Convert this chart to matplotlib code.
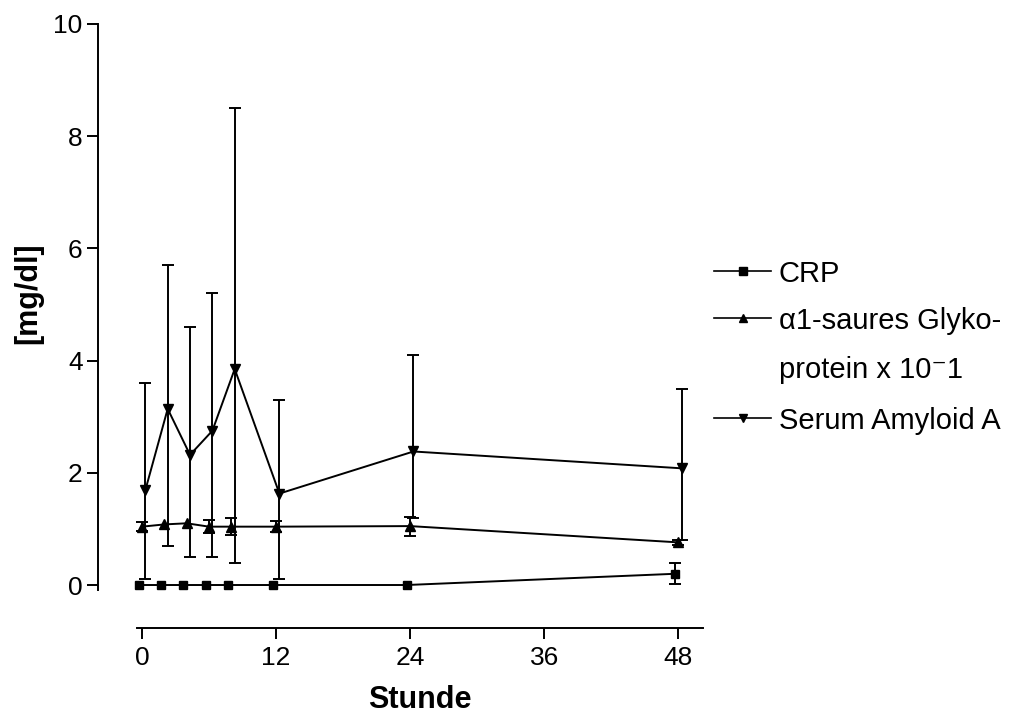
import numpy as np
import matplotlib
matplotlib.use('Agg')
import matplotlib.pyplot as plt

plt.rcParams['font.family'] = ['Liberation Sans', 'DejaVu Sans']

# hours after start
hours = np.array([0, 2, 4, 6, 8, 12, 24, 48])

# CRP [mg/dl]
crp_mean = np.array([0, 0, 0, 0, 0, 0, 0, 0.20])
crp_sd = np.array([0, 0, 0, 0, 0, 0, 0, 0.19])

# alpha1-acid glycoprotein x 10^-1
agp_mean = np.array([1.04, 1.08, 1.10, 1.04, 1.04, 1.04, 1.05, 0.76])
agp_sd = np.array([0.08, 0, 0, 0.12, 0.15, 0.10, 0.17, 0.05])

# serum amyloid A, error bars not symmetric
saa_mean = np.array([1.69, 3.14, 2.32, 2.75, 3.85, 1.63, 2.38, 2.08])
saa_top = np.array([3.60, 5.70, 4.60, 5.20, 8.50, 3.30, 4.10, 3.50])
saa_bottom = np.array([0.10, 0.70, 0.50, 0.50, 0.40, 0.10, 1.20, 0.80])

labels = ['CRP', 'α1-saures Glyko-\nprotein x 10⁻1', 'Serum Amyloid A']

fig = plt.figure(figsize=(10.26, 7.2), dpi=100)
ax = fig.add_axes([0.0955, 0.1278, 0.5897, 0.8389])

lw = 1.4
# small horizontal stagger of the series (as in the original)
shift = {'crp': -0.3, 'agp': 0.0, 'saa': 0.3}

m = crp_sd > 0
ax.errorbar(hours[m] + shift['crp'], crp_mean[m], yerr=crp_sd[m], fmt='none',
            ecolor='black', elinewidth=lw, capsize=4.5, capthick=lw)
ax.plot(hours + shift['crp'], crp_mean, color='black', lw=lw, marker='s', ms=6)

m = agp_sd > 0
ax.errorbar(hours[m] + shift['agp'], agp_mean[m], yerr=agp_sd[m], fmt='none',
            ecolor='black', elinewidth=lw, capsize=4.5, capthick=lw)
ax.plot(hours + shift['agp'], agp_mean, color='black', lw=lw, marker='^', ms=7)

ax.errorbar(hours + shift['saa'], saa_mean,
            yerr=[saa_mean - saa_bottom, saa_top - saa_mean], fmt='none',
            ecolor='black', elinewidth=lw, capsize=4.5, capthick=lw)
ax.plot(hours + shift['saa'], saa_mean, color='black', lw=lw, marker='v', ms=7)

ax.set_xlim(-3.94, 50.22)
ax.set_ylim(-0.766, 10)
ax.spines['top'].set_visible(False)
ax.spines['right'].set_visible(False)
ax.spines['left'].set_bounds(-0.09, 10)
ax.spines['bottom'].set_bounds(-0.45, 50.2)
for s in ['left', 'bottom']:
    ax.spines[s].set_linewidth(1.4)
ax.set_xticks([0, 12, 24, 36, 48])
ax.set_yticks([0, 2, 4, 6, 8, 10])
ax.tick_params(axis='both', direction='out', length=8, width=1.4, labelsize=19)
ax.tick_params(axis='x', pad=5)
ax.tick_params(axis='y', pad=3)

ax.set_xlabel('Stunde', fontsize=22, fontweight='bold')
ax.set_ylabel('[mg/dl]', fontsize=22, fontweight='bold')
ax.xaxis.set_label_coords(0.532, -0.095)
ax.yaxis.set_label_coords(-0.09, 0.5546)

# legend drawn by hand so the handle sits at the first text line
lax = fig.add_axes([0, 0, 1, 1])
lax.set_xlim(0, 1026)
lax.set_ylim(720, 0)
lax.axis('off')
leg_rows = [271, 318, 418]
leg_markers = ['s', '^', 'v']
for row, mk, lab in zip(leg_rows, leg_markers, labels):
    lax.plot([714, 771], [row, row], color='black', lw=1.2)
    lax.plot([742.5], [row], color='black', marker=mk, ms=5.5, lw=0)
    for k, line in enumerate(lab.split('\n')):
        lax.text(779, row + k * 48.7, line, fontsize=21,
                 va='center_baseline', ha='left')

fig.savefig('out.png', dpi=100)
